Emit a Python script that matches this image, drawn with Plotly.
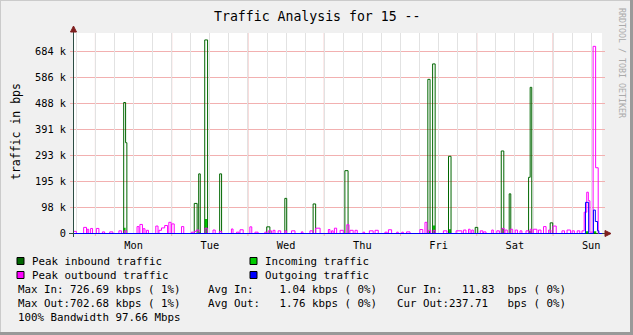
import plotly.graph_objects as go

# ---------------- data (hours since Monday 00:00, values in kbit/s) ----------------
days = ['Mon', 'Tue', 'Wed', 'Thu', 'Fri', 'Sat', 'Sun']
day_noon_h = [12, 36, 60, 84, 108, 132, 156]
midnight_h = [0, 24, 48, 72, 96, 120, 144]
t_start, t_end = -7.05, 159.4

y_tick_vals = [0, 97.66, 195.31, 292.97, 390.63, 488.28, 585.94, 683.59]
y_tick_text = ['0', '98 k', '195 k', '293 k', '391 k', '488 k', '586 k', '684 k']
y_min, y_max = -1.878, 753.1

# (start hour, end hour, kbps)
peak_in = [(8.9, 9.5, 492), (9.5, 9.9, 341), (31.1, 32.0, 113), (32.5, 33.0, 224),
           (34.4, 35.3, 727), (39.1, 39.7, 224), (53.9, 54.9, 25), (59.6, 60.2, 132),
           (68.5, 69.3, 111), (78.5, 79.5, 236), (104.6, 105.3, 579), (106.1, 106.9, 637),
           (111.1, 111.9, 290), (119.5, 120.3, 23), (127.7, 128.5, 310), (130.2, 130.7, 149),
           (136.3, 136.8, 211), (136.8, 137.3, 549), (143.1, 143.9, 40)]

incoming = [(8.9, 9.5, 22), (32.5, 33.0, 6), (34.4, 35.3, 54), (104.6, 105.3, 8),
            (106.1, 106.9, 30), (111.1, 111.9, 16), (127.7, 128.5, 20), (136.3, 137.3, 10),
            (154.2, 155.1, 8), (156.7, 157.6, 8)]

peak_out = [(-7.0, -6.0, 8), (-3.7, -2.8, 23), (-2.6, -2.1, 16), (-1.5, -0.9, 19), (0.3, 1.1, 19),
            (2.2, 2.9, 6), (4.5, 5.5, 6), (7.4, 8.2, 10), (9.1, 9.8, 10), (13.1, 13.7, 26),
            (14.0, 14.8, 34), (15.0, 15.6, 18), (16.1, 16.7, 12), (19.0, 19.7, 28), (20.0, 20.8, 12),
            (20.8, 21.8, 21), (21.8, 22.7, 30), (23.1, 23.8, 42), (24.0, 24.8, 36), (27.1, 27.8, 26),
            (30.2, 30.7, 5), (31.1, 31.8, 8), (31.8, 32.6, 13), (34.5, 35.2, 20), (37.0, 37.7, 13),
            (39.0, 39.7, 8), (42.8, 43.3, 17), (44.4, 45.2, 5), (45.5, 46.5, 14), (48.6, 49.2, 25),
            (50.2, 51.2, 5), (53.3, 53.9, 5), (54.4, 55.4, 10), (55.9, 56.5, 12), (57.5, 58.3, 10),
            (59.6, 60.1, 10), (61.7, 62.8, 10), (64.8, 65.3, 6), (67.5, 68.4, 10), (69.3, 70.7, 20),
            (73.3, 73.8, 15), (74.3, 74.8, 10), (75.2, 75.9, 20), (77.0, 78.0, 12), (79.1, 79.8, 33),
            (80.1, 81.1, 12), (81.7, 82.4, 12), (84.2, 84.7, 5), (86.2, 87.4, 10), (88.0, 89.0, 12),
            (91.1, 91.8, 5), (92.2, 93.2, 14), (94.8, 95.3, 5), (96.4, 96.9, 5), (97.9, 99.0, 6),
            (102.1, 103.0, 15), (103.7, 104.3, 42), (104.8, 105.5, 12), (106.3, 106.9, 12),
            (109.5, 110.6, 10), (113.5, 115.3, 10), (115.8, 116.6, 13), (117.4, 117.9, 16),
            (118.4, 118.9, 13), (121.1, 121.9, 10), (122.1, 122.9, 6), (124.7, 125.2, 13),
            (126.3, 127.1, 10), (127.9, 128.6, 19), (128.9, 129.6, 13), (130.5, 131.3, 16),
            (132.1, 132.8, 13), (133.6, 134.2, 10), (135.5, 136.3, 10), (136.8, 137.3, 16),
            (137.8, 138.9, 16), (139.4, 140.2, 13), (141.0, 141.8, 26), (142.6, 143.3, 13),
            (144.0, 145.0, 28), (146.8, 147.6, 10), (148.4, 149.5, 13), (150.0, 150.7, 10),
            (151.6, 152.4, 10), (153.1, 153.8, 10), (153.8, 154.6, 80), (154.6, 155.1, 155),
            (155.1, 155.6, 123), (155.6, 156.6, 5), (156.6, 157.4, 703), (157.4, 158.2, 247)]

outgoing = [(154.2, 155.2, 117), (156.7, 157.3, 88), (157.3, 158.0, 45), (158.0, 158.4, 10)]

legend_items = [('Peak inbound traffic', '#006600'), ('Incoming traffic', '#00cc00'),
                ('Peak outbound traffic', '#ff00ff'), ('Outgoing traffic', '#0000ff')]
stats_rows = [
    ['Max In: 726.69 kbps ( 1%)', 'Avg In:    1.04 kbps ( 0%)', 'Cur In:   11.83  bps ( 0%)'],
    ['Max Out:702.68 kbps ( 1%)', 'Avg Out:   1.76 kbps ( 0%)', 'Cur Out:237.71   bps ( 0%)'],
    ['100% Bandwidth 97.66 Mbps', '', ''],
]
title = 'Traffic Analysis for 15 --'
y_title = 'traffic in bps'
watermark = 'RRDTOOL / TOBI OETIKER'


# ---------------- helpers ----------------
def steps(segs):
    xs, ys = [t_start], [0]
    prev_end = None
    for s, e, v in segs:
        if prev_end is not None and abs(s - prev_end) < 1e-9:
            xs[-1], ys[-1] = s, v
        else:
            xs.append(s); ys.append(v)
        xs.append(e); ys.append(0)
        prev_end = e
    xs.append(t_end); ys.append(0)
    return xs, ys


W, H = 633, 335
L, R, T, B = 73, 602, 33, 234
PW, PH = R - L, B - T


def px(x):
    return (x - L) / PW


def py(y):
    return (B - y) / PH


MONO = 'DejaVu Sans Mono'
GRID_RED = '#f2b0b0'
GRID_GRAY = '#e2e2e2'
AXIS = '#2C4D43'
ARROW = '#7F1F1F'

fig = go.Figure()

x, y = steps(incoming)
fig.add_trace(go.Scatter(x=x, y=y, mode='lines', line=dict(shape='hv', width=0, color='#00cc00'),
                         fill='tozeroy', fillcolor='#00cc00', name='Incoming traffic'))
x, y = steps(peak_in)
fig.add_trace(go.Scatter(x=x, y=y, mode='lines', line=dict(shape='hv', width=1, color='#006600'),
                         name='Peak inbound traffic'))
x, y = steps(peak_out)
fig.add_trace(go.Scatter(x=x, y=y, mode='lines', line=dict(shape='hv', width=1, color='#ff00ff'),
                         name='Peak outbound traffic'))
x, y = steps(outgoing)
fig.add_trace(go.Scatter(x=x, y=y, mode='lines', line=dict(shape='hv', width=1, color='#0000ff'),
                         name='Outgoing traffic'))

shapes = []
# red major grid: midnights (vertical) and y ticks (horizontal)
for m in midnight_h:
    shapes.append(dict(type='line', xref='x', yref='paper', x0=m, x1=m, y0=py(236), y1=1,
                       line=dict(color=GRID_RED, width=1), layer='between'))
for v in y_tick_vals[1:]:
    shapes.append(dict(type='line', xref='paper', yref='y', x0=px(70), x1=px(605), y0=v, y1=v,
                       line=dict(color=GRID_RED, width=1), layer='between'))
# axes with arrows (graph lines are drawn over the axis, as in rrdtool)
AX_Y, AX_X = 233.5, 73.5
shapes.append(dict(type='line', xref='paper', yref='paper', x0=px(69), x1=px(606), y0=py(AX_Y), y1=py(AX_Y),
                   line=dict(color=AXIS, width=1), layer='between'))
shapes.append(dict(type='line', xref='paper', yref='paper', x0=px(AX_X), x1=px(AX_X), y0=py(237), y1=py(31),
                   line=dict(color=AXIS, width=1)))
shapes.append(dict(type='path', xref='paper', yref='paper', fillcolor=ARROW, line=dict(color=ARROW, width=1),
                   path=f'M {px(605)},{py(AX_Y - 3)} L {px(611)},{py(AX_Y)} L {px(605)},{py(AX_Y + 3)} Z'))
shapes.append(dict(type='path', xref='paper', yref='paper', fillcolor=ARROW, line=dict(color=ARROW, width=1),
                   path=f'M {px(AX_X - 3)},{py(32)} L {px(AX_X)},{py(26)} L {px(AX_X + 3)},{py(32)} Z'))
# image frame (3d shade)
shapes.append(dict(type='line', xref='paper', yref='paper', x0=px(0), x1=px(633), y0=py(0.5), y1=py(0.5),
                   line=dict(color='#cbcbcb', width=1)))
shapes.append(dict(type='line', xref='paper', yref='paper', x0=px(0.5), x1=px(0.5), y0=py(0), y1=py(335),
                   line=dict(color='#cbcbcb', width=1)))
shapes.append(dict(type='line', xref='paper', yref='paper', x0=px(631.5), x1=px(631.5), y0=py(0), y1=py(335),
                   line=dict(color='#999999', width=3)))
shapes.append(dict(type='line', xref='paper', yref='paper', x0=px(0), x1=px(633), y0=py(333.5), y1=py(333.5),
                   line=dict(color='#999999', width=3)))

annotations = []
# legend boxes + labels
box_x = [17, 250]
row_y = [261, 275]
for i, (name, col) in enumerate(legend_items):
    bx = box_x[i % 2]
    ry = row_y[i // 2]
    shapes.append(dict(type='rect', xref='paper', yref='paper', x0=px(bx), x1=px(bx + 7),
                       y0=py(ry + 3.5), y1=py(ry - 3.5), fillcolor=col, line=dict(color='#000000', width=1)))
    annotations.append(dict(xref='paper', yref='paper', x=px(bx + 13), y=py(ry), text=name.replace(' ', '\u00a0'),
                            xanchor='left', yanchor='middle', showarrow=False,
                            font=dict(family=MONO, size=10.8, color='#000')))
col_x = [16, 206, 395]
for r, row in enumerate(stats_rows):
    for c, txt in enumerate(row):
        if not txt:
            continue
        annotations.append(dict(xref='paper', yref='paper', x=px(col_x[c]), y=py(289 + 14 * r),
                                text=txt.replace(' ', '\u00a0'), xanchor='left', yanchor='middle',
                                showarrow=False, font=dict(family=MONO, size=10.8, color='#000')))
annotations.append(dict(xref='paper', yref='paper', x=px(317), y=py(17), text=title.replace(' ', '\u00a0'),
                        xanchor='center', yanchor='middle', showarrow=False,
                        font=dict(family=MONO, size=13.2, color='#000')))
annotations.append(dict(xref='paper', yref='paper', x=px(16), y=py(132), text=y_title.replace(' ', '\u00a0'),
                        textangle=-90, xanchor='center', yanchor='middle', showarrow=False,
                        font=dict(family=MONO, size=11.5, color='#000')))
annotations.append(dict(xref='paper', yref='paper', x=px(622), y=py(63), text=watermark.replace(' ', '\u00a0'),
                        textangle=90, xanchor='center', yanchor='middle', showarrow=False,
                        font=dict(family=MONO, size=8.3, color='#aaaaaa')))

fig.update_layout(
    template='none',
    width=W, height=H, autosize=False,
    margin=dict(l=L, r=W - R, t=T, b=H - B, pad=0),
    paper_bgcolor='#f0f0f0', plot_bgcolor='#ffffff',
    showlegend=False,
    shapes=shapes, annotations=annotations,
    xaxis=dict(range=[t_start, t_end], tickmode='array', tickvals=day_noon_h, ticktext=days,
               showgrid=True, gridcolor=GRID_GRAY, gridwidth=1, zeroline=False, showline=False,
               ticks='outside', ticklen=2, tickcolor='rgba(0,0,0,0)',
               tickfont=dict(family=MONO, size=10.3, color='#000'),
               minor=dict(dtick=6, tick0=0, showgrid=True, gridcolor=GRID_GRAY, gridwidth=1),
               fixedrange=True),
    yaxis=dict(range=[y_min, y_max], tickmode='array', tickvals=y_tick_vals, ticktext=y_tick_text,
               showgrid=False, zeroline=False, showline=False,
               ticks='', ticklabelstandoff=6,
               tickfont=dict(family=MONO, size=10.3, color='#000'), fixedrange=True),
)

fig.write_html('out.html')
